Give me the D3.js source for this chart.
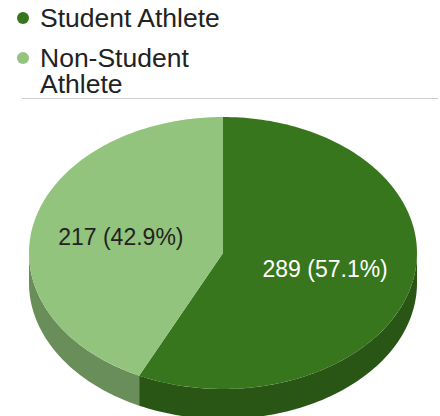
<!DOCTYPE html>
<html>
<head>
<meta charset="utf-8">
<script src="https://cdn.jsdelivr.net/npm/d3@7"></script>
<style>
  html, body { margin: 0; padding: 0; background: #fff; }
  svg { display: block; font-family: Arial, "Liberation Sans", sans-serif; }
</style>
</head>
<body>
<svg id="chart" width="440" height="416"></svg>
<script>
// Survey breakdown
const categories = ["Student Athlete", "Non-Student Athlete"];
const legendLines = [["Student Athlete"], ["Non-Student", "Athlete"]];
const counts = [289, 217];
const topColors = ["#38761d", "#93c47d"];
const sideColors = ["#295615", "#6a8e59"];
const labelColors = ["#ffffff", "#222222"];

const svg = d3.select("#chart");

// ---- legend ----
const legendY = [18, 58];
const legend = svg.append("g");
categories.forEach((c, i) => {
  legend.append("circle")
    .attr("cx", 23).attr("cy", legendY[i]).attr("r", 6)
    .attr("fill", topColors[i]);
  const t = legend.append("text")
    .attr("x", 40).attr("y", legendY[i] + 9)
    .attr("font-size", 26.5).attr("fill", "#222");
  legendLines[i].forEach((line, j) => {
    t.append("tspan").attr("x", 40).attr("dy", j === 0 ? 0 : 26).text(line);
  });
});
svg.append("line")
  .attr("x1", 22).attr("x2", 438).attr("y1", 98.5).attr("y2", 98.5)
  .attr("stroke", "#cccccc").attr("stroke-width", 1);

// ---- 3D pie ----
const cx = 223, cy = 253, rx = 194, ry = 136, depth = 30;
const total = d3.sum(counts);
const pie = d3.pie().sort(null).startAngle(0).endAngle(2 * Math.PI);
const arcs = pie(counts);
const color = d3.scaleOrdinal().domain(categories).range(topColors);
const sideColor = d3.scaleOrdinal().domain(categories).range(sideColors);

// angle measured clockwise from 12 o'clock
const px = (a, f = 1) => cx + rx * f * Math.sin(a);
const py = (a, f = 1) => cy - ry * f * Math.cos(a);

function ellipseArc(a0, a1, dy, steps) {
  const pts = [];
  for (let k = 0; k <= steps; k++) {
    const a = a0 + (a1 - a0) * k / steps;
    pts.push([px(a), py(a) + dy]);
  }
  return pts;
}

const line = d3.line();

// front walls: only the lower half of the rim faces the viewer
const sides = svg.append("g");
arcs.forEach((d, i) => {
  const a0 = Math.max(d.startAngle, Math.PI / 2);
  const a1 = Math.min(d.endAngle, 3 * Math.PI / 2);
  if (a1 <= a0) return;
  const top = ellipseArc(a0, a1, 0, 80);
  const bottom = ellipseArc(a1, a0, depth, 80);
  sides.append("path")
    .attr("d", line(top.concat(bottom)) + "Z")
    .attr("fill", sideColor(categories[i]));
});

// top faces
const tops = svg.append("g");
arcs.forEach((d, i) => {
  const pts = [[cx, cy]].concat(ellipseArc(d.startAngle, d.endAngle, 0, 160));
  tops.append("path")
    .attr("d", line(pts) + "Z")
    .attr("fill", color(categories[i]));
});

// slice labels
const fmt = d3.format(".1%");
arcs.forEach((d, i) => {
  const mid = (d.startAngle + d.endAngle) / 2;
  svg.append("text")
    .attr("x", px(mid, 0.54)).attr("y", py(mid, 0.54))
    .attr("text-anchor", "middle").attr("dominant-baseline", "central")
    .attr("font-size", 23).attr("fill", labelColors[i])
    .text(`${d.data} (${fmt(d.data / total)})`);
});
</script>
</body>
</html>
